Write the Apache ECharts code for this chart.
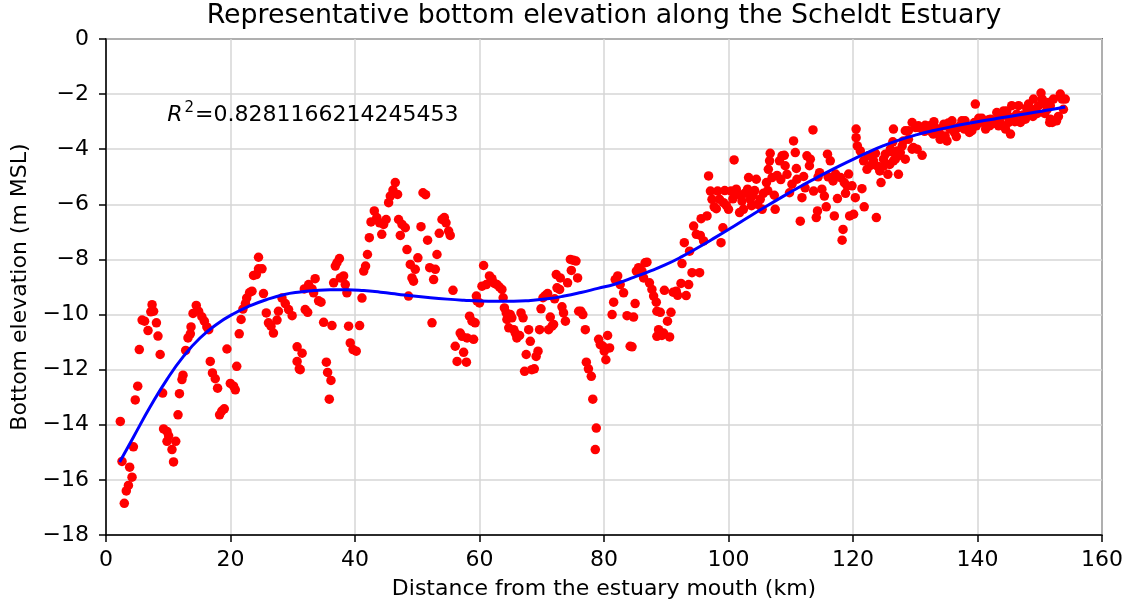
<!DOCTYPE html>
<html>
<head>
<meta charset="utf-8">
<script src="https://cdn.jsdelivr.net/npm/echarts@6/dist/echarts.min.js"></script>
<style>
html,body{margin:0;padding:0;background:#fff;}
#chart{width:1130px;height:606px;}
</style>
</head>
<body>
<div id="chart"></div>
<script>
// ---- data ----
const distanceKm = [
2.3,2.57,3.8,4.18,3.6,3.26,2.94,4.4,4.7,5.1,5.35,5.8,6.2,6.75,7.2,7.4,7.65,8.1,8.35,8.7,9.1,9.25,9.8,10.06,9.8,10.6,11.2,10.85,11.57,11.8,
12.2,12.37,12.8,13.17,13.55,13.66,13.98,14.5,14.88,15.4,15.8,16.2,16.5,16.75,17.1,17.55,17.93,18.25,18.6,19.0,19.43,19.97,20.5,20.77,21.0,21.4,21.7,22.0,22.4,22.6,
23.07,23.45,23.7,24.15,24.5,25.06,24.5,25.3,25.75,26.1,26.5,26.9,27.47,27.7,28.27,28.8,29.33,29.9,30.7,30.7,31.05,
31.5,31.2,32.0,32.4,31.86,32.55,33.1,33.35,33.6,34.15,34.54,34.96,35.4,35.6,36.14,35.87,36.3,36.57,36.84,37.1,37.5,37.64,38.17,38.44,38.7,38.97,39.24,39.68,40.2,40.74,
41.12,41.4,41.7,42.0,42.3,42.57,43.1,43.5,43.95,44.3,44.6,45.0,45.4,45.67,46.1,46.47,46.84,47.0,47.55,48.08,47.28,48.35,48.6,48.88,49.15,49.4,49.68,50.1,50.6,50.92,
51.34,51.66,52.0,52.37,52.63,52.9,53.17,53.54,53.97,54.35,54.62,55.04,55.3,55.74,56.1,56.4,56.9,57.2,57.45,57.9,58.0,58.4,58.8,59.05,59.5,59.6,
59.3,60.0,60.66,60.4,61.1,61.6,62.0,62.4,62.8,63.2,63.6,63.8,64.0,64.3,64.4,64.7,64.95,65.2,65.5,65.75,66.0,66.44,66.67,67.0,67.24,67.5,67.9,68.16,68.4,68.8,
69.1,69.4,69.65,69.88,70.2,70.57,70.94,71.1,71.37,71.65,71.9,72.07,72.45,72.87,72.33,72.98,73.25,73.5,73.8,74.15,74.6,75.1,75.5,74.75,75.76,75.93,76.3,76.6,77.0,77.16,
77.5,77.96,78.2,78.76,78.6,79.14,79.4,79.84,80.05,80.3,80.58,80.9,81.3,81.55,81.8,82.2,82.6,83.15,83.7,84.2,84.5,84.75,85.0,85.2,85.56,86.1,86.36,86.6,86.9,87.3,
87.7,87.97,88.5,88.77,88.5,88.4,89.04,89.57,89.3,90.54,90.2,90.76,89.7,91.1,91.6,91.83,92.37,93.2,93.6,94.14,95.36,92.53,92.9,93.75,94.4,94.83,95.47,96.0,95.6,96.55,
96.8,97.1,97.35,97.7,98.25,98.56,98.04,98.8,99.1,99.2,99.65,100.0,100.4,100.9,101.25,101.6,101.78,102.17,102.4,103.07,103.23,103.5,103.94,104.47,104.67,105.1,105.4,106.1,106.4,106.7,
106.6,107.0,107.36,107.5,107.8,108.2,108.6,108.96,109.4,109.8,110.2,110.45,110.73,111.0,111.53,111.8,112.07,112.6,113.14,113.57,113.67,114.1,114.3,114.63,115.0,115.4,115.7,115.9,116.35,116.8,
117.0,117.5,118.0,118.4,118.25,118.6,119.04,119.46,119.84,120.1,120.37,120.5,120.5,120.7,121.17,121.44,121.8,122.25,122.5,
99.4,100.7,101.0,102.6,103.7,104.2,105.6,106.3,108.4,109.1,110.9,112.3,113.0,114.4,116.0,117.2,118.8,119.3,
123.75,121.7,122.9,123.3,123.6,124.0,124.3,124.5,124.9,125.2,125.6,125.9,126.3,126.5,126.4,126.8,127.3,127.1,127.5,127.9,128.1,128.4,128.9,129.5,129.7,130.3,131.1,130.0,130.5,131.1,
131.6,132.3,132.7,133.4,133.9,134.6,135.1,134.8,135.6,135.9,136.3,136.6,137.0,137.5,137.9,138.3,138.7,139.1,139.65,139.5,140.2,140.7,141.0,141.3,141.8,142.3,142.9,143.4,143.9,144.5,
144.7,145.3,145.5,145.8,146.3,146.6,146.9,147.3,147.7,148.2,148.5,148.9,149.3,149.8,150.2,150.6,151.2,151.7,151.6,152.1,152.7,153.0,153.3,153.6,154.1,153.8,
128.9,130.3,132.9,134.0,134.6,136.4,137.2,138.0,140.4,126.0,127.6,128.4,129.5,126.5,124.9,
142.1,143.1,144.2,145.0,150.4,150.9,151.4,151.7,152.0,149.0,152.2,
131.5,133.0,135.3,139.8,141.9,143.7,144.9,146.0,147.9,149.6,150.8
];
const elevationM = [
-13.88,-15.33,-15.54,-15.9,-16.2,-16.4,-16.85,-14.8,-13.1,-12.6,-11.27,-10.2,-10.24,-10.58,-9.9,-9.64,-9.88,-10.3,-10.78,-11.45,-12.85,-14.15,-14.24,-14.4,-14.6,-14.9,-14.6,-15.35,-13.64,-12.87,
-12.36,-12.2,-11.3,-10.85,-10.7,-10.45,-9.96,-9.67,-9.88,-10.08,-10.24,-10.45,-10.55,-11.7,-12.12,-12.33,-12.67,-13.64,-13.5,-13.42,-11.25,-12.5,-12.6,-12.73,-11.88,-10.7,-10.18,-9.8,-9.6,-9.4,
-9.2,-9.15,-8.58,-8.55,-8.34,-8.34,-7.92,-9.24,-9.94,-10.3,-10.42,-10.67,-10.2,-9.88,-9.4,-9.6,-9.82,-10.04,-11.17,-11.7,-11.97,
-11.4,-12.0,-9.82,-9.92,-9.07,-8.91,-9.07,-9.21,-8.7,-9.5,-9.55,-10.28,-11.73,-12.1,-12.39,-13.07,-10.4,-8.85,-8.24,-8.12,-7.97,-8.67,-8.6,-8.91,-9.21,-10.42,-11.03,-11.27,-11.33,-10.4,
-9.4,-8.42,-8.24,-7.82,-7.21,-6.64,-6.24,-6.48,-6.67,-7.09,-6.73,-6.55,-5.94,-5.7,-5.48,-5.21,-5.64,-6.55,-6.73,-6.85,-7.13,-7.64,-9.33,-8.18,-8.67,-8.79,-8.36,-7.94,-6.81,-5.58,
-5.65,-7.3,-8.3,-10.3,-8.73,-8.36,-7.82,-7.05,-6.55,-6.48,-6.67,-6.97,-7.13,-9.12,-11.15,-11.7,-10.67,-10.79,-11.37,-11.73,-10.85,-10.06,-10.24,-10.9,-9.33,-9.5,
-10.3,-9.58,-8.22,-8.97,-8.91,-8.6,-8.7,-8.87,-8.91,-9.0,-9.09,-9.39,-9.76,-9.94,-10.18,-10.48,-10.0,-10.12,-10.55,-10.67,-10.85,-10.76,-9.94,-10.12,-12.06,-11.45,-10.55,-10.97,-12.0,-11.97,
-11.52,-11.33,-10.55,-9.79,-9.39,-9.31,-9.24,-10.55,-10.09,-10.42,-10.36,-9.43,-9.03,-9.09,-8.55,-8.67,-9.72,-9.94,-10.24,-8.85,-8.0,-8.03,-8.06,-8.4,-8.67,-9.88,-9.88,-10.0,-10.55,-11.73,
-11.97,-12.24,-13.07,-14.12,-14.9,-10.9,-11.09,-11.15,-11.33,-11.64,-10.76,-11.21,-10.0,-9.55,-8.73,-8.6,-8.91,-9.21,-10.04,-11.15,-11.17,-10.09,-9.6,-8.42,-8.3,-8.42,-8.67,-8.12,-8.1,-8.85,
-9.09,-9.33,-9.88,-10.55,-10.79,-9.55,-9.92,-10.67,-10.76,-10.81,-10.24,-9.92,-9.12,-9.19,-9.15,-9.3,-8.87,-9.31,-8.91,-8.48,-8.48,-8.15,-7.39,-7.7,-6.79,-7.09,-7.13,-7.33,-6.52,-6.42,
-4.97,-5.52,-5.82,-6.09,-5.52,-5.82,-6.16,-7.39,-6.85,-5.94,-6.04,-6.18,-5.52,-4.39,-5.45,-5.64,-6.3,-5.88,-6.18,-5.45,-5.03,-5.82,-5.67,-5.09,-6.0,-5.82,-6.18,-5.21,-4.73,-4.15,
-4.42,-5.03,-5.67,-6.18,-4.95,-4.42,-4.24,-4.22,-4.91,-5.58,-5.27,-3.7,-4.12,-5.09,-6.61,-5.76,-4.99,-4.24,-4.36,-3.3,-5.52,-6.48,-6.24,-4.85,-5.45,-5.7,-6.09,-4.18,-4.42,-5.15,
-6.42,-5.79,-5.03,-6.91,-7.3,-5.21,-5.33,-6.42,-5.33,-6.36,-5.76,-3.27,-3.58,-3.88,-4.06,-5.43,-6.09,-4.73,-4.24,
-5.5,-5.8,-5.55,-5.6,-6.05,-5.5,-5.6,-5.5,-5.1,-4.6,-4.7,-5.4,-4.6,-5.0,-5.0,-4.9,-5.6,-4.9,
-6.48,-4.42,-4.58,-4.42,-4.15,-4.63,-4.79,-5.21,-4.36,-4.18,-4.91,-4.55,-4.1,-3.27,-3.73,-4.36,-4.91,-4.06,-4.22,-3.88,-3.7,-3.33,-3.33,-3.03,-3.94,-4.0,-4.22,-3.21,-3.15,-3.27,
-3.13,-3.15,-3.39,-3.25,-3.42,-3.15,-3.7,-3.52,-3.27,-2.97,-3.39,-3.54,-3.21,-2.97,-3.27,-3.21,-3.39,-3.33,-2.36,-3.03,-2.88,-2.88,-3.03,-3.27,-2.93,-3.09,-2.97,-3.15,-3.13,-3.27,
-2.61,-3.45,-2.42,-2.85,-2.73,-2.42,-3.03,-2.76,-2.91,-2.36,-2.67,-2.81,-2.55,-2.42,-1.96,-2.33,-2.55,-2.42,-3.03,-2.97,-2.97,-2.81,-2.0,-2.18,-2.18,-2.55,
-3.64,-3.21,-3.45,-3.64,-3.09,-3.27,-3.15,-2.97,-3.03,-4.0,-4.12,-4.36,-4.0,-4.42,-4.61,
-2.91,-2.67,-2.61,-3.03,-2.18,-2.36,-2.3,-2.91,-3.03,-2.18,-2.18,
-3.35,-3.0,-3.05,-3.15,-3.15,-2.85,-2.8,-3.0,-2.5,-2.7,-2.7
];
const fitDistance = [2.2,4.4,7.1,9.8,12.5,15.1,17.8,20.5,23.2,25.9,28.5,31.2,33.4,36,38.7,41.4,44.1,46.8,49.4,52.1,54.8,57.5,60.1,62.8,65.5,68.2,70.9,73.6,76.3,79,81.7,84.4,87.1,89.8,92.5,95.2,97.9,100.6,103.3,106,108.7,111.4,114.1,116.8,119.5,122.2,124.9,127.6,130.3,133,135.7,138.4,141.1,143.8,146.5,149.2,151.9,154.1];
const fitElevation = [-15.35,-14.45,-13.35,-12.35,-11.5,-10.85,-10.35,-9.97,-9.68,-9.45,-9.28,-9.18,-9.13,-9.1,-9.1,-9.13,-9.19,-9.26,-9.33,-9.39,-9.44,-9.48,-9.51,-9.52,-9.52,-9.49,-9.43,-9.33,-9.2,-9.05,-8.9,-8.68,-8.45,-8.2,-7.9,-7.56,-7.2,-6.83,-6.45,-6.08,-5.72,-5.37,-5.04,-4.72,-4.42,-4.13,-3.87,-3.65,-3.47,-3.32,-3.19,-3.07,-2.96,-2.86,-2.76,-2.66,-2.56,-2.47];
const xTicks = {min: 0, max: 160, step: 20};
const yTicks = {min: -18, max: 0, step: 2};
const titleText = 'Representative bottom elevation along the Scheldt Estuary';
const r2Text = '0.8281166214245453';

// ---- chart ----
const FONT = "'DejaVu Sans', sans-serif";
const chart = echarts.init(document.getElementById('chart'), null, {renderer: 'canvas'});
const scatterData = distanceKm.map((x, i) => [x, elevationM[i]]);
const lineData = fitDistance.map((x, i) => [x, fitElevation[i]]);
const minusFmt = v => String(v).replace('-', '\u2212');

const option = {
  animation: false,
  backgroundColor: '#ffffff',
  grid: {left: 106, right: 28, top: 39, bottom: 71, show: true, borderColor: '#000', borderWidth: 1.5, backgroundColor: 'transparent'},
  xAxis: {
    type: 'value', min: xTicks.min, max: xTicks.max, interval: xTicks.step,
    name: 'Distance from the estuary mouth (km)', nameLocation: 'middle', nameGap: 43,
    nameTextStyle: {fontFamily: FONT, fontSize: 22, color: '#000'},
    axisLine: {show: true, onZero: false, lineStyle: {color: '#000', width: 1.5}},
    axisTick: {show: true, inside: false, length: 7, lineStyle: {color: '#000', width: 1.5}},
    axisLabel: {fontFamily: FONT, fontSize: 22, color: '#000', margin: 14, formatter: minusFmt},
    splitLine: {show: true, lineStyle: {color: '#d6d6d6', width: 1.5}}
  },
  yAxis: {
    type: 'value', min: yTicks.min, max: yTicks.max, interval: yTicks.step,
    name: 'Bottom elevation (m MSL)', nameLocation: 'middle', nameGap: 73, nameRotate: 90,
    nameTextStyle: {fontFamily: FONT, fontSize: 22, color: '#000'},
    axisLine: {show: true, onZero: false, lineStyle: {color: '#000', width: 1.5}},
    axisTick: {show: true, inside: false, length: 7, lineStyle: {color: '#000', width: 1.5}},
    axisLabel: {fontFamily: FONT, fontSize: 22, color: '#000', margin: 17, formatter: minusFmt},
    splitLine: {show: true, lineStyle: {color: '#d6d6d6', width: 1.5}}
  },
  series: [
    {type: 'scatter', data: scatterData, symbol: 'circle', symbolSize: 9.5,
     itemStyle: {color: '#ff0000', opacity: 1}, z: 2, silent: true},
    {type: 'line', data: lineData, smooth: 0.5, showSymbol: false, symbol: 'none',
     lineStyle: {color: '#0000ff', width: 3}, z: 3, silent: true}
  ]
};
chart.setOption(option);

const anchor = chart.convertToPixel({gridIndex: 0}, [10, -3]);
chart.setOption({
  graphic: [
    {type: 'text', x: 604, y: 3, silent: true,
     style: {text: titleText, fontFamily: FONT, fontSize: 26.8, fill: '#000', textAlign: 'center', textVerticalAlign: 'top'}},
    {type: 'text', x: anchor[0] - 1, y: anchor[1] + 5, silent: true,
     style: {text: '{i|R}{s|2}{n|=' + r2Text + '}', fontFamily: FONT, fontSize: 22, fill: '#000',
             textAlign: 'left', textVerticalAlign: 'bottom',
             rich: {
               i: {fontFamily: FONT, fontSize: 22, fontStyle: 'italic', fill: '#000', lineHeight: 26, verticalAlign: 'bottom'},
               s: {fontFamily: FONT, fontSize: 15, fill: '#000', lineHeight: 26, verticalAlign: 'top', padding: [0, 1, 0, 2]},
               n: {fontFamily: FONT, fontSize: 22, fill: '#000', lineHeight: 26, verticalAlign: 'bottom'}
             }}}
  ]
});
</script>
</body>
</html>
